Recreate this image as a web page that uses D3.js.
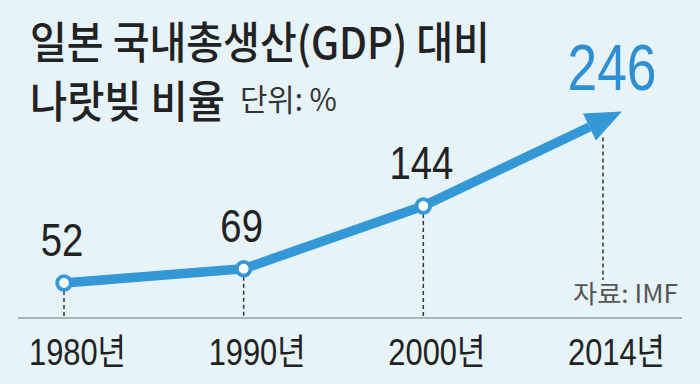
<!DOCTYPE html>
<html><head><meta charset="utf-8">
<script src="https://cdn.jsdelivr.net/npm/d3@7"></script>
<style>
html,body{margin:0;padding:0;background:#e6f3f9;}
svg{display:block;}
</style></head>
<body>
<svg id="c" width="700" height="384"></svg>
<script>
const years = ["1980년", "1990년", "2000년", "2014년"];
const values = [52, 69, 144, 246];
const titleLines = ["일본 국내총생산(GDP) 대비", "나랏빚 비율"];
const unitLabel = "단위: %";
const sourceLabel = "자료: IMF";

const W = 700, H = 384;
const svg = d3.select("#c");
svg.append("rect").attr("width", W).attr("height", H).attr("fill", "#e6f3f9");

const blue = "#3497d6";
const dark = "#222222";
const axisY = 318;

const x = d3.scalePoint().domain(years).range([64, 603]);
const y = d3.scaleLinear().domain([52, 246]).range([283, 120.6]);

// text squeezed horizontally to a target width via transform (keeps bbox true)
function fitText(parent, str, px, py, width, size, attrs, anchor) {
  const g = parent.append("g");
  const t = g.append("text").attr("x", 0).attr("y", 0).attr("font-size", size).text(str);
  Object.entries(attrs).forEach(([k, v]) => t.attr(k, v));
  const nat = t.node().getComputedTextLength();
  const sx = width / nat;
  let ox = px;
  if (anchor === "middle") ox = px - width / 2;
  if (anchor === "end") ox = px - width;
  g.attr("transform", `translate(${ox},${py}) scale(${sx},1)`);
  return t;
}

const cjk = { "font-family": "'Noto Sans CJK KR', sans-serif" };

// title
fitText(svg, titleLines[0], 30, 59, 460, 44, { ...cjk, "font-weight": 500, fill: dark });
fitText(svg, titleLines[1], 30, 118, 195, 44, { ...cjk, "font-weight": 500, fill: dark });
fitText(svg, unitLabel, 240, 111, 97, 31, { ...cjk, "font-weight": 400, fill: "#333" });

// axis line
const axis = d3.axisBottom(x).tickSize(0).tickFormat("");
const axG = svg.append("g").attr("transform", `translate(0,${axisY})`).call(axis);
axG.select(".domain").attr("d", `M18,0H682`).attr("stroke", "#8fa2ab").attr("stroke-width", 1.5);

// tick labels
years.forEach(d => fitText(svg, d, x(d) + 13.5, 365, 97, 36,
  { "font-family": "'Liberation Sans', 'Noto Sans CJK KR', sans-serif", fill: dark }, "middle"));

// dashed guides
const pts = years.map((d, i) => ({ year: d, v: values[i], px: x(d), py: y(values[i]) }));
const last = pts.length - 1;
svg.append("g").selectAll("line").data(pts).join("line")
  .attr("x1", d => d.px).attr("x2", d => d.px)
  .attr("y1", (d, i) => i === last ? d.py + 17 : d.py + 8)
  .attr("y2", (d, i) => i === last ? 280 : axisY)
  .attr("stroke", "#333").attr("stroke-width", 1.5).attr("stroke-dasharray", "4,3");

// line with arrow
const p2 = pts[last - 1], p3 = pts[last];
const dx = p3.px - p2.px, dy = p3.py - p2.py, len = Math.hypot(dx, dy);
const ux = dx / len, uy = dy / len, nx = -uy, ny = ux;
const base = [p3.px - 15 * ux, p3.py - 15 * uy];
const tip = [p3.px + 21 * ux, p3.py + 21 * uy];
const linePts = pts.slice(0, last).map(d => [d.px, d.py]).concat([base]);
svg.append("path").attr("d", d3.line()(linePts))
  .attr("fill", "none").attr("stroke", blue).attr("stroke-width", 9.5)
  .attr("stroke-linejoin", "round");
svg.append("path")
  .attr("d", d3.line()([tip, [base[0] + 15 * nx, base[1] + 15 * ny], [base[0] - 15 * nx, base[1] - 15 * ny]]) + "Z")
  .attr("fill", blue);

// circles
svg.append("g").selectAll("circle").data(pts.slice(0, last)).join("circle")
  .attr("cx", d => d.px).attr("cy", d => d.py).attr("r", 6.8)
  .attr("fill", "#fff").attr("stroke", blue).attr("stroke-width", 3.8);

// value labels
pts.forEach((d, i) => {
  const isLast = i === last;
  fitText(svg, String(d.v), isLast ? d.px + 9 : d.px - 2, isLast ? 90 : d.py - 27,
    isLast ? 89 : String(d.v).length * 21.3, isLast ? 65 : 46,
    { "font-family": "'Liberation Sans', sans-serif", fill: isLast ? "#2e8fd4" : dark }, "middle");
});

// source
fitText(svg, sourceLabel, 678, 303, 105, 25, { ...cjk, fill: "#555" }, "end");
</script>
</body></html>
